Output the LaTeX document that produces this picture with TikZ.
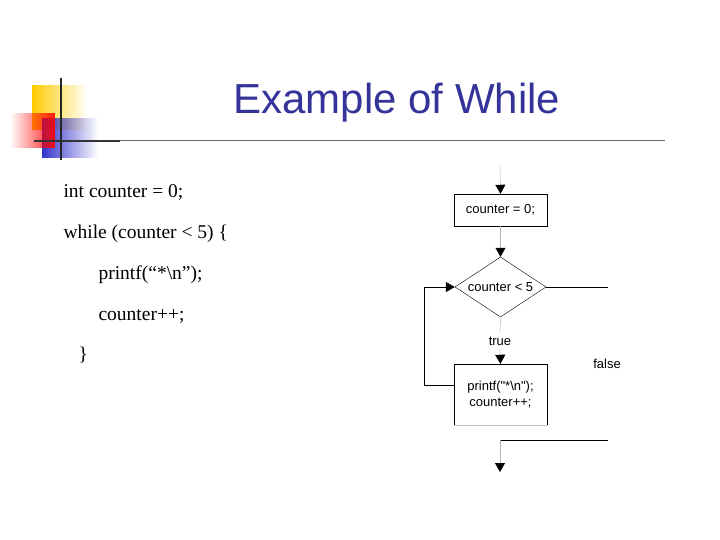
\documentclass[tikz,border=0pt]{standalone}
\usepackage{fontspec}
\setmainfont{Liberation Serif}
\newfontfamily\flowfont{Liberation Sans}
\newfontfamily\titlefont{Liberation Sans}
\usetikzlibrary{shapes.geometric,arrows.meta,fadings}
\definecolor{titleblue}{RGB}{51,51,153}
\definecolor{logoyellow}{RGB}{255,204,0}
\definecolor{logoblue}{RGB}{51,51,204}
\tikzset{
    stepbox/.style = {draw, rectangle, minimum width=93pt, align=center, font=\flowfont\fontsize{13}{16}\selectfont, inner sep=2pt},
    decision/.style = {draw, diamond, aspect=1.5, minimum width=91pt, minimum height=60pt, inner sep=0pt, font=\flowfont\fontsize{13}{16}\selectfont},
    flow/.style = {draw, -{Triangle[length=9pt,width=10pt,color=black]}},
    code/.style = {anchor=base west, font=\fontsize{19.5}{22}\selectfont}
}
\begin{document}
\begin{tikzpicture}[x=1pt,y=-1pt]
    \useasboundingbox (0,0) rectangle (720,540);
    % logo
    \fill[logoyellow, path fading=east] (32,85) rectangle (88,130);
    \fill[logoblue, path fading=east] (42,118) rectangle (98,158);
    \fill[red, path fading=west, fill opacity=0.9] (10,113) rectangle (55,148);
    \draw[line width=2.5pt, black!85] (61,78) -- (61,160);
    \draw[line width=2pt, black!80] (34,141) -- (120,141);
    \draw[line width=1pt, black!60] (120,141) -- (665,141);
    \node[text=titleblue, font=\titlefont\fontsize{42}{48}\selectfont] (title) at (397,103) {Example of While};
    % code
    \node[code] (c1) at (60,198) {int counter = 0;};
    \node[code] (c2) at (60,239) {while (counter < 5) \{};
    \node[code] (c3) at (95,279) {printf(“*\textbackslash n”);};
    \node[code] (c4) at (95,320) {counter++;};
    \node[code] (c5) at (75,360) {\}};
    % flowchart
    \coordinate (start) at (500,165);
    \node[stepbox, minimum height=32pt] (init) at (500.5,210) {counter = 0;};
    \node[decision] (test) at (500.5,287) {counter < 5};
    \node[font=\flowfont\fontsize{13}{16}\selectfont] (true) at (500,341) {true};
    \node[stepbox, minimum height=61pt, draw=none] (body) at (500.5,394.5) {printf("*\textbackslash n");\\counter++;};
    \draw (body.south west) -- (body.north west) -- (body.north east) -- (body.south east);
    \draw[black!25] (body.south west) -- (body.south east);
    \node[font=\flowfont\fontsize{13}{16}\selectfont] (false) at (607,364) {false};
    \coordinate (exitR) at (608,287);
    \coordinate (joinL) at (500,440);
    \coordinate (joinR) at (608,440);
    \coordinate (finish) at (500,472);
    \coordinate (loopA) at (424,385);
    \coordinate (loopB) at (424,287);
    \draw[flow, black!30] (start) -- (init.north);
    \draw[flow, black!30] (init.south) -- (test.north);
    \draw[black!30] (test.south) -- (true.north);
    \draw[flow, black!30] (true.south) -- (body.north);
    \draw (test.east) -- (exitR);
    \draw[flow] (body.west |- loopA) -- (loopA) -- (loopB) -- (test.west);
    \draw (joinL) -- (joinR);
    \draw[flow, black!30] (joinL) -- (finish);
\end{tikzpicture}
\end{document}
